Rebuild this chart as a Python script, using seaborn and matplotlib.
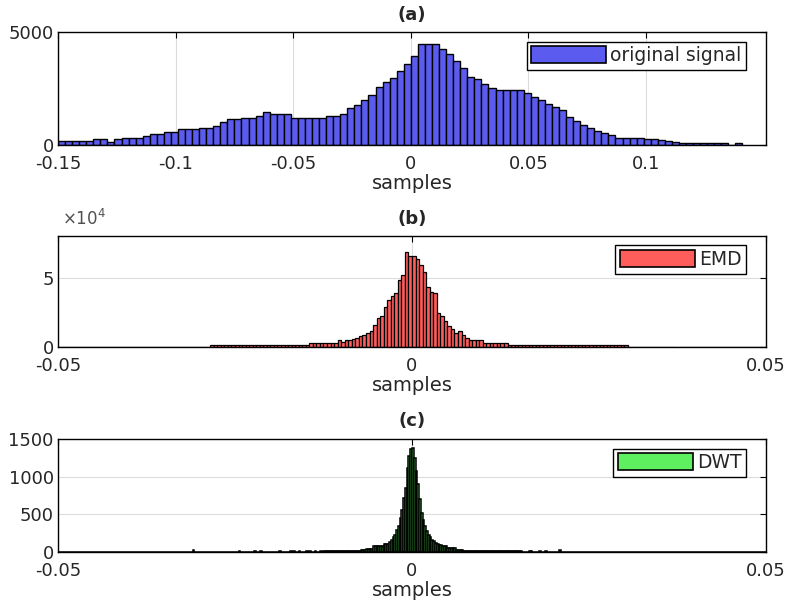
import numpy as np
import pandas as pd
import seaborn as sns
import matplotlib
matplotlib.use("Agg")
import matplotlib.pyplot as plt
from matplotlib.patches import Patch

# ---- data (bin counts) ----
# (a) original signal: bins of 0.003 starting at -0.15
bin_start_a = -0.15
bin_width_a = 0.003
counts_a = [
    190, 190, 190, 190, 190, 250, 250, 150, 250, 295,
    295, 295, 400, 490, 490, 560, 560, 690, 690, 690,
    765, 765, 855, 1000, 1150, 1150, 1210, 1210, 1300, 1445,
    1370, 1370, 1370, 1210, 1210, 1210, 1210, 1210, 1300, 1300,
    1370, 1620, 1770, 1990, 2210, 2580, 2800, 2980, 3270, 3585,
    3950, 4470, 4470, 4470, 4250, 4030, 3730, 3390, 2995, 2920,
    2685, 2540, 2435, 2435, 2435, 2435, 2285, 2140, 1990, 1815,
    1700, 1530, 1250, 1060, 885, 735, 620, 515, 440, 295,
    295, 295, 295, 265, 265, 220, 175, 150, 75, 75,
    75, 75, 75, 75, 75, 0, 90,
]

# (b) EMD: bins of 0.0005 from -0.05 to 0.05
bin_start_b = -0.05
bin_width_b = 0.0005
counts_b = ([150] * 43 + [1500] * 28 + [3000] * 8 + [
    4700, 3800, 4700, 5400, 6100, 6600, 7800, 8500, 10200, 11800,
    16100, 20800, 22000, 29100, 33800, 36900, 38600, 48000, 51600, 68200,
    65800, 65300, 63400, 59200, 54400, 43300, 39800, 38600, 24400, 22700,
    18500, 14900, 13300, 10200, 11800, 9000, 6600, 5400, 4700, 4700,
    4700] + [3000] * 7 + [1500] * 34 + [150] * 39)

# (c) DWT: bins of 0.00025, dense core plus a few isolated outliers
bin_start_c = -0.0125
bin_width_c = 0.00025
counts_c = ([12] * 15 + [18] * 5 + [18] + [31] * 3 + [44] * 4 + [75] * 6 + [107] * 3 + [
    133, 164, 195, 222, 297, 342, 453, 564, 720, 853,
    1120, 1275, 1365, 1380, 1250, 1075, 897, 697, 520, 430,
    342, 275, 222, 195, 164, 142, 120, 107, 98, 89,
] + [75] * 3 + [53] * 5 + [31] * 4 + [18] + [12] * 32)
outlier_x_c = [-0.0310, -0.0243, -0.0221, -0.0214, -0.0186, -0.0171, -0.0166,
               -0.0159, -0.0150, -0.0143, -0.0137, -0.0130,
               0.0165, 0.0168, 0.0181, 0.0188, 0.0208]
outlier_n_c = [25, 15, 15, 15, 15, 15, 15, 15, 15, 15, 15, 15,
               15, 15, 15, 15, 20]

labels = ["original signal", "EMD", "DWT"]
titles = ["(a)", "(b)", "(c)"]
colors = ["#5b5bf0", "#ff5c5c", "#5ef05e"]


def centers(start, width, n):
    return start + width * (np.arange(n) + 0.5)


df_a = pd.DataFrame({"x": centers(bin_start_a, bin_width_a, len(counts_a)), "n": counts_a})
df_b = pd.DataFrame({"x": centers(bin_start_b, bin_width_b, len(counts_b)), "n": counts_b})
df_c = pd.DataFrame({
    "x": np.concatenate([centers(bin_start_c, bin_width_c, len(counts_c)), outlier_x_c]),
    "n": counts_c + outlier_n_c,
})

edges_a = list(bin_start_a + bin_width_a * np.arange(len(counts_a) + 1))
edges_b = list(np.linspace(-0.05, 0.05, 201))
edges_c = list(np.linspace(-0.05, 0.05, 401))

# ---- style ----
sns.set_style("white")
plt.rcParams["font.family"] = ["DejaVu Sans"]
plt.rcParams["axes.unicode_minus"] = False

fig = plt.figure(figsize=(7.86, 6.03), dpi=100)
W, H = 786, 603
left, right = 58, 766
boxes = [(32, 145), (236, 347), (439, 552)]
axes = [fig.add_axes([left / W, 1 - b / H, (right - left) / W, (b - t) / H]) for t, b in boxes]

sns.histplot(data=df_a, x="x", weights="n", bins=edges_a, color=colors[0],
             edgecolor="black", linewidth=1.0, alpha=1, ax=axes[0])
sns.histplot(data=df_b, x="x", weights="n", bins=edges_b, color=colors[1],
             edgecolor="black", linewidth=0.9, alpha=1, ax=axes[1])
sns.histplot(data=df_c, x="x", weights="n", bins=edges_c, color=colors[2],
             edgecolor="black", linewidth=1.1, alpha=1, ax=axes[2])

# axis limits and ticks
axes[0].set_xlim(-0.15, 0.151)
axes[0].set_ylim(0, 5000)
axes[0].set_xticks([-0.15, -0.1, -0.05, 0, 0.05, 0.1])
axes[0].set_xticklabels(["-0.15", "-0.1", "-0.05", "0", "0.05", "0.1"])
axes[0].set_yticks([0, 5000])
axes[0].set_yticklabels(["0", "5000"])

axes[1].set_xlim(-0.05, 0.05)
axes[1].set_ylim(0, 80000)
axes[1].set_yticks([0, 50000])
axes[1].set_yticklabels(["0", "5"])
axes[1].text(0.005, 1.06, "×10$^4$", transform=axes[1].transAxes,
             ha="left", va="bottom", fontsize=12, color="#505050")

axes[2].set_xlim(-0.05, 0.05)
axes[2].set_ylim(0, 1500)
axes[2].set_yticks([0, 500, 1000, 1500])
axes[2].set_yticklabels(["0", "500", "1000", "1500"])

for ax in axes[1:]:
    ax.set_xticks([-0.05, 0, 0.05])
    ax.set_xticklabels(["-0.05", "0", "0.05"])

for ax, title, label, color in zip(axes, titles, labels, colors):
    ax.grid(True, color="#dcdcdc", linewidth=0.8)
    ax.set_axisbelow(True)
    ax.tick_params(direction="in", top=True, right=True, length=4,
                   width=0.8, labelsize=13, color="black")
    ax.tick_params(axis="x", pad=7)
    ax.tick_params(axis="y", pad=3)
    for s in ax.spines.values():
        s.set_color("black")
        s.set_linewidth(1.0)
    ax.set_title(title, fontsize=13, fontweight="bold", pad=9)
    ax.set_xlabel("samples", fontsize=14, labelpad=1)
    ax.set_ylabel("")
    leg = ax.legend(handles=[Patch(facecolor=color, edgecolor="black", linewidth=1.2)],
                    labels=[label], loc="upper right", bbox_to_anchor=(0.972, 0.915),
                    borderaxespad=0, frameon=True, fancybox=False, framealpha=1,
                    edgecolor="black", fontsize=13.5, handlelength=4.0,
                    handleheight=1.0, handletextpad=0.2, borderpad=0.25)
    leg.get_frame().set_linewidth(1.0)

fig.savefig("out.png", dpi=100)
